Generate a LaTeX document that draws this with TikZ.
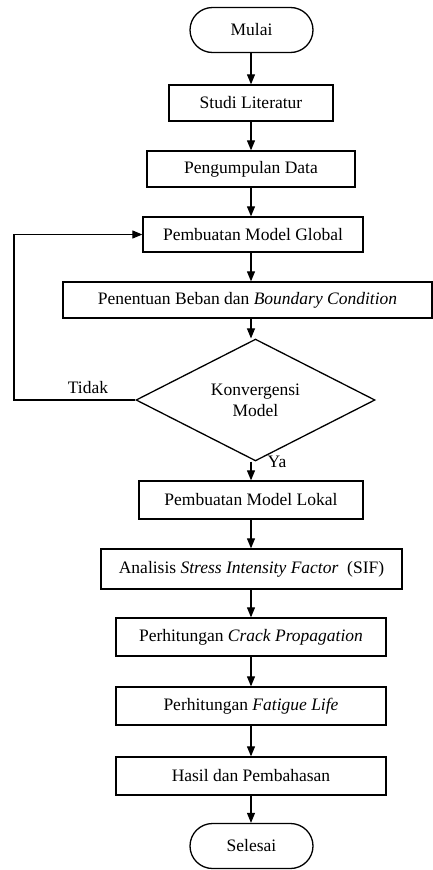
\documentclass[tikz,border=0pt]{standalone}
\usepackage{fontspec}
\setmainfont{Liberation Serif}
\usetikzlibrary{shapes.geometric,shapes.misc,arrows.meta}
\begin{document}
\begin{tikzpicture}[x=1pt,y=-1pt,
  every node/.style={font=\fontsize{17.5}{21}\selectfont, text=black},
  box/.style={draw=black, line width=1.3pt, rectangle, inner sep=0pt},
  term/.style={draw=black, line width=1.3pt, rounded rectangle, inner sep=0pt, minimum width=123pt, minimum height=45pt},
  decision/.style={draw=black, line width=1.3pt, diamond, inner sep=0pt, minimum width=239pt, minimum height=102pt, align=center},
  arr/.style={-{Triangle[length=10pt,width=8pt]}, line width=1.1pt, draw=black},
  lbl/.style={inner sep=0pt, anchor=base}]
\useasboundingbox (0,0) rectangle (433,870);
\coordinate (col) at (251,0);
\node[term] (mulai) at (251.5,30) {Mulai};
\node[box, minimum width=164pt, minimum height=36pt] (studi) at (251,103) {Studi Literatur};
\node[box, minimum width=208pt, minimum height=36pt] (data) at (251,169) {Pengumpulan Data};
\node[box, minimum width=220pt, minimum height=35pt] (glob) at (253,234.5) {Pembuatan Model Global};
\node[box, minimum width=369pt, minimum height=36pt] (pen) at (247.5,300) {Penentuan Beban dan \textit{Boundary Condition}};
\node[decision] (dia) at (255.5,400) {Konvergensi\\Model};
\node[box, minimum width=224pt, minimum height=38pt] (lok) at (251,500) {Pembuatan Model Lokal};
\node[box, minimum width=301pt, minimum height=40pt] (sif) at (251.5,569) {Analisis \textit{Stress Intensity Factor}\ \ (SIF)};
\node[box, minimum width=270pt, minimum height=38pt] (crack) at (251,637) {Perhitungan \textit{Crack Propagation}};
\node[box, minimum width=270pt, minimum height=38pt] (fat) at (251,706) {Perhitungan \textit{Fatigue Life}};
\node[box, minimum width=270pt, minimum height=38pt] (hasil) at (251,776) {Hasil dan Pembahasan};
\node[term] (selesai) at (251.5,846) {Selesai};

\draw[arr] (col |- mulai.south) -- (col |- studi.north);
\draw[arr] (col |- studi.south) -- (col |- data.north);
\draw[arr] (col |- data.south) -- (col |- glob.north);
\draw[arr] (col |- glob.south) -- (col |- pen.north);
\draw[arr] (col |- pen.south) -- (col |- dia.north);
\draw[arr] (col |- dia.south) -- (col |- lok.north);
\draw[arr] (col |- lok.south) -- (col |- sif.north);
\draw[arr] (col |- sif.south) -- (col |- crack.north);
\draw[arr] (col |- crack.south) -- (col |- fat.north);
\draw[arr] (col |- fat.south) -- (col |- hasil.north);
\draw[arr] (col |- hasil.south) -- (col |- selesai.north);

\coordinate (loopx) at (14,0);
\draw[arr] (dia.west) -- (loopx |- dia.west) |- (glob.west);
\node[lbl] (tidak) at (88,393) {Tidak};
\node[lbl] (ya) at (277,467) {Ya};
\end{tikzpicture}
\end{document}
